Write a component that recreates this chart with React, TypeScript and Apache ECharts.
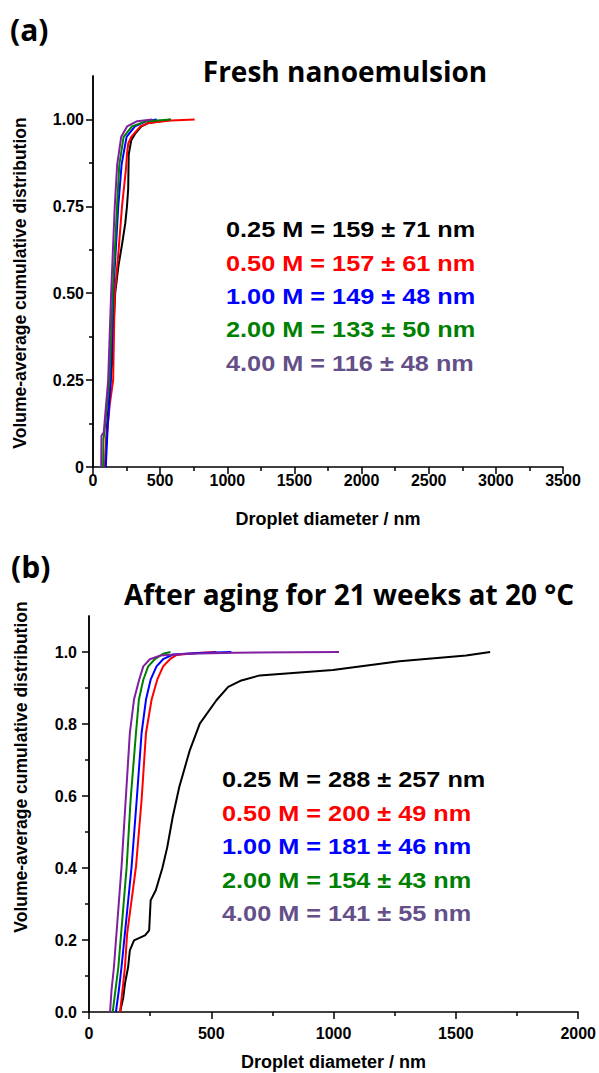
import React, { useEffect, useRef } from "react";
import * as echarts from "echarts";

// ---------- data ----------
const concLabels = ["0.25 M", "0.50 M", "1.00 M", "2.00 M", "4.00 M"];
const lineColors = ["#000000", "#ff0000", "#0000ff", "#008000", "#8020a0"];
const textColors = ["#000000", "#ff0000", "#0000ff", "#008000", "#654f88"];

const freshStats = ["159 ± 71 nm", "157 ± 61 nm", "149 ± 48 nm", "133 ± 50 nm", "116 ± 48 nm"];
const agedStats = ["288 ± 257 nm", "200 ± 49 nm", "181 ± 46 nm", "154 ± 43 nm", "141 ± 55 nm"];

// Fresh nanoemulsion: [diameter nm, cumulative fraction]
const fresh025 = [[92, 0], [95, 0.05], [105, 0.12], [125, 0.22], [142, 0.3], [155, 0.42], [165, 0.5], [190, 0.58], [216, 0.64], [240, 0.7], [253, 0.75], [262, 0.8], [266, 0.9], [285, 0.94], [316, 0.96], [360, 0.98], [416, 0.99], [500, 0.995], [579, 1.0]];
const fresh050 = [[90, 0], [100, 0.08], [125, 0.18], [150, 0.25], [162, 0.5], [190, 0.62], [216, 0.75], [246, 0.86], [253, 0.9], [262, 0.93], [285, 0.95], [353, 0.98], [416, 0.99], [579, 0.997], [757, 1.0]];
const fresh100 = [[95, 0], [110, 0.12], [132, 0.25], [151, 0.5], [188, 0.75], [213, 0.87], [250, 0.95], [312, 0.98], [398, 0.995], [475, 1.0]];
const fresh200 = [[75, 0], [78, 0.08], [85, 0.1], [122, 0.25], [147, 0.5], [179, 0.75], [196, 0.87], [228, 0.95], [290, 0.98], [398, 0.995], [577, 1.0]];
const fresh400 = [[61, 0], [63, 0.09], [80, 0.1], [113, 0.25], [135, 0.5], [162, 0.75], [180, 0.87], [210, 0.95], [254, 0.98], [329, 0.995], [440, 1.0]];

// After aging for 21 weeks at 20 °C
const aged025 = [[127, 0], [140, 0.04], [147, 0.079], [160, 0.125], [167, 0.171], [184, 0.199], [229, 0.213], [246, 0.227], [252, 0.31], [273, 0.338], [300, 0.4], [320, 0.458], [342, 0.541], [369, 0.625], [412, 0.727], [453, 0.801], [521, 0.866], [569, 0.903], [623, 0.921], [698, 0.935], [834, 0.942], [997, 0.95], [1269, 0.974], [1542, 0.99], [1640, 1.0]];
const aged050 = [[127, 0], [140, 0.08], [147, 0.125], [156, 0.218], [192, 0.403], [215, 0.589], [233, 0.775], [256, 0.868], [279, 0.923], [303, 0.96], [331, 0.98], [358, 0.992], [440, 0.997], [521, 1.0]];
const aged100 = [[110, 0], [122, 0.06], [133, 0.125], [174, 0.403], [195, 0.589], [215, 0.775], [233, 0.868], [252, 0.923], [276, 0.96], [303, 0.98], [344, 0.993], [450, 0.997], [582, 1.0]];
const aged200 = [[97, 0], [108, 0.06], [120, 0.125], [154, 0.403], [170, 0.589], [192, 0.775], [204, 0.868], [222, 0.923], [242, 0.96], [269, 0.98], [303, 0.995], [333, 1.0]];
const aged400 = [[86, 0], [92, 0.06], [102, 0.125], [133, 0.403], [150, 0.589], [167, 0.775], [184, 0.868], [205, 0.923], [222, 0.96], [249, 0.98], [290, 0.99], [400, 0.995], [600, 0.998], [1022, 1.0]];

const freshSeries = [fresh025, fresh050, fresh100, fresh200, fresh400];
const agedSeries = [aged025, aged050, aged100, aged200, aged400];

const freshYMajor = [0, 0.25, 0.5, 0.75, 1.0];
const freshYMinor = [0.125, 0.375, 0.625, 0.875];
const agedYMajor = [0, 0.2, 0.4, 0.6, 0.8, 1.0];
const agedYMinor = [0.1, 0.3, 0.5, 0.7, 0.9];

const titleA = "Fresh nanoemulsion";
const titleB = "After aging for 21 weeks at 20 °C";
const xName = "Droplet diameter / nm";
const yName = "Volume-average cumulative distribution";

// ---------- styling ----------
const AX = "'Liberation Sans', Arial, sans-serif";
const TITLE_FONT = "'Open Sans', sans-serif";
const axisLineStyle = { color: "#000", width: 1.5 };

function majorY(grid: number, max: number, vals: number[], fmt: (v: number) => string, margin: number) {
  return {
    gridIndex: grid,
    type: "value",
    position: "left",
    min: 0,
    max,
    axisLine: { show: true, onZero: false, lineStyle: axisLineStyle },
    axisTick: { show: true, customValues: vals, length: 7, lineStyle: axisLineStyle },
    axisLabel: {
      customValues: vals,
      formatter: fmt,
      fontFamily: AX,
      fontWeight: "bold",
      fontSize: 16,
      color: "#000",
      margin,
    },
    splitLine: { show: false },
  };
}
function minorY(grid: number, max: number, vals: number[]) {
  return {
    gridIndex: grid,
    type: "value",
    position: "left",
    offset: 0,
    min: 0,
    max,
    axisLine: { show: true, onZero: false, lineStyle: axisLineStyle },
    axisTick: { show: true, customValues: vals, length: 4, lineStyle: axisLineStyle },
    axisLabel: { show: false },
    splitLine: { show: false },
  };
}
function xAx(grid: number, max: number, margin: number, nameGap: number) {
  return {
    gridIndex: grid,
    type: "value",
    min: 0,
    max,
    interval: 500,
    axisLine: { show: true, onZero: false, lineStyle: axisLineStyle },
    axisTick: { show: true, length: 7, lineStyle: axisLineStyle },
    minorTick: { show: true, splitNumber: 2, length: 4, lineStyle: axisLineStyle },
    axisLabel: {
      formatter: (v: number) => String(v),
      fontFamily: AX,
      fontWeight: "bold",
      fontSize: 16,
      color: "#000",
      margin,
    },
    splitLine: { show: false },
    minorSplitLine: { show: false },
    name: xName,
    nameLocation: "middle",
    nameGap,
    nameTextStyle: { fontFamily: AX, fontWeight: "bold", fontSize: 18, color: "#000" },
  };
}

export default function App() {
  const ref = useRef<HTMLDivElement>(null);
  useEffect(() => {
    if (!ref.current) return;
    const chart = echarts.init(ref.current, undefined, { renderer: "svg" });

    const series: any[] = [];
    freshSeries.forEach((d, i) =>
      series.push({
        name: "fresh " + concLabels[i],
        type: "line",
        xAxisIndex: 0,
        yAxisIndex: 0,
        data: d,
        symbol: "none",
        lineStyle: { color: lineColors[i], width: 2 },
        itemStyle: { color: lineColors[i] },
        z: 2 + i,
      })
    );
    agedSeries.forEach((d, i) =>
      series.push({
        name: "aged " + concLabels[i],
        type: "line",
        xAxisIndex: 1,
        yAxisIndex: 2,
        data: d,
        symbol: "none",
        lineStyle: { color: lineColors[i], width: 2 },
        itemStyle: { color: lineColors[i] },
        z: 2 + i,
      })
    );

    const graphics: any[] = [];
    const panel = (txt: string, x: number, y: number) => ({
      type: "text",
      x,
      y,
      style: { text: txt, font: `bold 30px ${TITLE_FONT}`, fill: "#000", textAlign: "left", textVerticalAlign: "middle" },
    });
    graphics.push(panel("(a)", 10, 29));
    graphics.push(panel("(b)", 11, 566));
    graphics.push({
      type: "text",
      x: 345,
      y: 71,
      style: { text: titleA, font: `bold 28px ${TITLE_FONT}`, fill: "#000", textAlign: "center", textVerticalAlign: "middle" },
    });
    graphics.push({
      type: "text",
      x: 349,
      y: 594,
      style: { text: titleB, font: `bold 28px ${TITLE_FONT}`, fill: "#000", textAlign: "center", textVerticalAlign: "middle" },
    });
    // y axis names
    graphics.push({
      type: "text",
      x: 20,
      y: 283,
      rotation: Math.PI / 2,
      style: { text: yName, font: `bold 17.5px ${AX}`, fill: "#000", textAlign: "center", textVerticalAlign: "middle" },
    });
    graphics.push({
      type: "text",
      x: 21,
      y: 767,
      rotation: Math.PI / 2,
      style: { text: yName, font: `bold 17.5px ${AX}`, fill: "#000", textAlign: "center", textVerticalAlign: "middle" },
    });
    // annotations
    concLabels.forEach((c, i) => {
      graphics.push({
        type: "text",
        x: 226,
        y: 230 + i * 33.3,
        scaleX: 1.15,
        style: { text: `${c} = ${freshStats[i]}`, font: `bold 22px ${AX}`, fill: textColors[i], textAlign: "left", textVerticalAlign: "middle" },
      });
      graphics.push({
        type: "text",
        x: 222,
        y: 780 + i * 33.4,
        scaleX: 1.15,
        style: { text: `${c} = ${agedStats[i]}`, font: `bold 22px ${AX}`, fill: textColors[i], textAlign: "left", textVerticalAlign: "middle" },
      });
    });

    chart.setOption({
      animation: false,
      backgroundColor: "#fff",
      grid: [
        { left: 93, top: 76, width: 470, height: 391, containLabel: false },
        { left: 89, top: 616, width: 490, height: 396, containLabel: false },
      ],
      xAxis: [xAx(0, 3500, 5, 43), xAx(1, 2000, 13, 41)],
      yAxis: [
        majorY(0, 1.125, freshYMajor, (v: number) => (v === 0 ? "0" : v.toFixed(2)), 9),
        minorY(0, 1.125, freshYMinor),
        majorY(1, 1.1, agedYMajor, (v: number) => v.toFixed(1), 12),
        minorY(1, 1.1, agedYMinor),
      ],
      series,
      graphic: graphics,
    });
    return () => chart.dispose();
  }, []);
  return <div ref={ref} style={{ position: "absolute", left: 0, top: 0, width: 599, height: 1073 }} />;
}
